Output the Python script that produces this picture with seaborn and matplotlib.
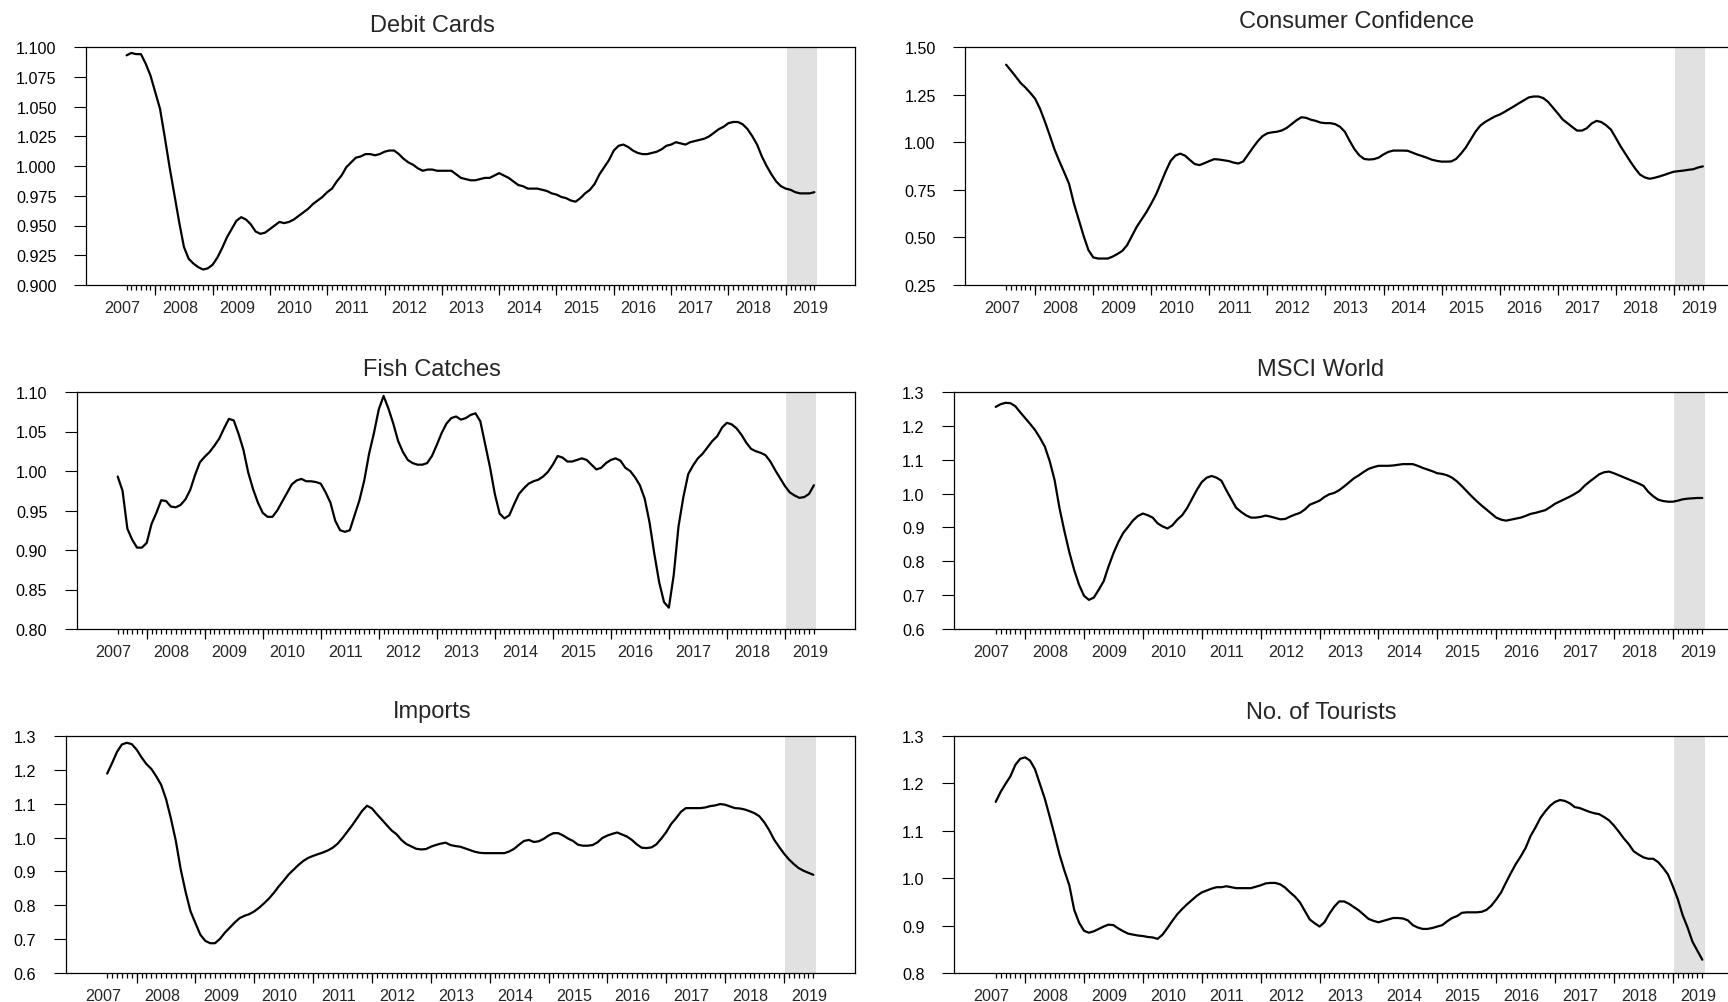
import numpy as np
import pandas as pd
import matplotlib
matplotlib.use("Agg")
import matplotlib.pyplot as plt
import matplotlib.transforms as mtransforms
from matplotlib.ticker import FixedLocator, FormatStrFormatter, NullLocator
import seaborn as sns

# ---------------- data (monthly, Jul 2007 .. Jul 2019) ----------------
months = pd.date_range("2007-07-01", "2019-07-01", freq="MS")

debit_cards = [
    1.093, 1.095, 1.094, 1.094, 1.086, 1.076, 1.062, 1.048, 1.024, 0.999, 0.976, 0.953,
    0.932, 0.922, 0.918, 0.915, 0.913, 0.914, 0.917, 0.923, 0.931, 0.940, 0.947, 0.954,
    0.957, 0.955, 0.951, 0.945, 0.943, 0.944, 0.947, 0.950, 0.953, 0.952, 0.953, 0.955,
    0.958, 0.961, 0.964, 0.968, 0.971, 0.974, 0.978, 0.981, 0.987, 0.992, 0.999, 1.003,
    1.007, 1.008, 1.010, 1.010, 1.009, 1.010, 1.012, 1.013, 1.013, 1.010, 1.006, 1.003,
    1.001, 0.998, 0.996, 0.997, 0.997, 0.996, 0.996, 0.996, 0.996, 0.993, 0.990, 0.989,
    0.988, 0.988, 0.989, 0.990, 0.990, 0.992, 0.994, 0.992, 0.990, 0.987, 0.984, 0.983,
    0.981, 0.981, 0.981, 0.980, 0.979, 0.977, 0.976, 0.974, 0.973, 0.971, 0.970, 0.973,
    0.977, 0.980, 0.985, 0.993, 0.999, 1.005, 1.013, 1.017, 1.018, 1.016, 1.013, 1.011,
    1.010, 1.010, 1.011, 1.012, 1.014, 1.017, 1.018, 1.020, 1.019, 1.018, 1.020, 1.021,
    1.022, 1.023, 1.025, 1.028, 1.031, 1.033, 1.036, 1.037, 1.037, 1.035, 1.031, 1.025,
    1.018, 1.008, 1.000, 0.993, 0.987, 0.983, 0.981, 0.980, 0.978, 0.977, 0.977, 0.977,
    0.978]

consumer_confidence = [
    1.407, 1.376, 1.344, 1.311, 1.287, 1.259, 1.228, 1.176, 1.109, 1.037, 0.962, 0.900,
    0.842, 0.782, 0.679, 0.595, 0.509, 0.434, 0.395, 0.389, 0.389, 0.389, 0.399, 0.413,
    0.429, 0.459, 0.508, 0.556, 0.595, 0.633, 0.678, 0.726, 0.787, 0.848, 0.902, 0.930,
    0.940, 0.929, 0.906, 0.885, 0.880, 0.890, 0.901, 0.911, 0.909, 0.905, 0.901, 0.893,
    0.888, 0.899, 0.935, 0.971, 1.005, 1.032, 1.047, 1.052, 1.055, 1.062, 1.075, 1.095,
    1.115, 1.131, 1.128, 1.118, 1.112, 1.103, 1.100, 1.100, 1.095, 1.081, 1.055, 1.007,
    0.963, 0.931, 0.912, 0.909, 0.911, 0.919, 0.936, 0.949, 0.956, 0.956, 0.956, 0.955,
    0.945, 0.935, 0.927, 0.918, 0.908, 0.902, 0.898, 0.898, 0.899, 0.912, 0.940, 0.972,
    1.013, 1.055, 1.087, 1.106, 1.121, 1.135, 1.145, 1.159, 1.174, 1.189, 1.205, 1.220,
    1.235, 1.240, 1.240, 1.232, 1.212, 1.182, 1.152, 1.120, 1.100, 1.080, 1.061, 1.061,
    1.073, 1.098, 1.112, 1.106, 1.089, 1.066, 1.023, 0.978, 0.938, 0.899, 0.862, 0.830,
    0.815, 0.808, 0.813, 0.820, 0.828, 0.837, 0.845, 0.848, 0.851, 0.855, 0.858, 0.867,
    0.873]

fish_catches = [
    0.993, 0.975, 0.927, 0.913, 0.903, 0.903, 0.909, 0.933, 0.947, 0.963, 0.962, 0.955,
    0.954, 0.957, 0.964, 0.976, 0.995, 1.011, 1.018, 1.024, 1.032, 1.041, 1.054, 1.066,
    1.064, 1.047, 1.027, 0.998, 0.977, 0.960, 0.947, 0.942, 0.942, 0.950, 0.961, 0.972,
    0.983, 0.988, 0.990, 0.987, 0.987, 0.986, 0.984, 0.973, 0.960, 0.937, 0.925, 0.923,
    0.925, 0.944, 0.963, 0.988, 1.022, 1.048, 1.078, 1.095, 1.079, 1.060, 1.038, 1.024,
    1.014, 1.010, 1.008, 1.008, 1.010, 1.019, 1.033, 1.048, 1.060, 1.067, 1.069, 1.065,
    1.067, 1.071, 1.073, 1.063, 1.034, 1.005, 0.971, 0.946, 0.940, 0.944, 0.958, 0.971,
    0.978, 0.984, 0.987, 0.989, 0.993, 0.999, 1.008, 1.019, 1.017, 1.012, 1.012, 1.014,
    1.016, 1.014, 1.008, 1.002, 1.004, 1.010, 1.014, 1.016, 1.013, 1.004, 1.000, 0.992,
    0.982, 0.965, 0.935, 0.895, 0.859, 0.834, 0.827, 0.868, 0.930, 0.967, 0.996, 1.007,
    1.016, 1.022, 1.030, 1.038, 1.044, 1.055, 1.061, 1.059, 1.054, 1.046, 1.036, 1.028,
    1.025, 1.023, 1.020, 1.012, 1.001, 0.991, 0.981, 0.973, 0.969, 0.966, 0.967, 0.971,
    0.982]

msci_world = [
    1.256, 1.264, 1.268, 1.267, 1.258, 1.240, 1.223, 1.206, 1.188, 1.165, 1.139, 1.096,
    1.040, 0.957, 0.889, 0.827, 0.774, 0.730, 0.698, 0.686, 0.693, 0.716, 0.741, 0.785,
    0.824, 0.857, 0.884, 0.902, 0.921, 0.934, 0.941, 0.936, 0.929, 0.912, 0.903, 0.897,
    0.906, 0.923, 0.936, 0.957, 0.984, 1.011, 1.034, 1.047, 1.052, 1.047, 1.038, 1.010,
    0.984, 0.958, 0.946, 0.936, 0.929, 0.929, 0.931, 0.935, 0.932, 0.928, 0.924, 0.925,
    0.932, 0.938, 0.943, 0.953, 0.967, 0.973, 0.979, 0.990, 0.998, 1.002, 1.010, 1.021,
    1.033, 1.045, 1.054, 1.064, 1.073, 1.078, 1.082, 1.082, 1.082, 1.083, 1.085, 1.087,
    1.087, 1.087, 1.082, 1.076, 1.071, 1.066, 1.060, 1.058, 1.054, 1.047, 1.036, 1.022,
    1.007, 0.992, 0.978, 0.965, 0.953, 0.941, 0.929, 0.923, 0.920, 0.923, 0.926, 0.929,
    0.934, 0.940, 0.943, 0.947, 0.951, 0.960, 0.970, 0.977, 0.984, 0.991, 0.999, 1.008,
    1.023, 1.035, 1.046, 1.057, 1.063, 1.065, 1.060, 1.054, 1.048, 1.042, 1.036, 1.030,
    1.023, 1.005, 0.992, 0.982, 0.978, 0.976, 0.976, 0.979, 0.983, 0.985, 0.986, 0.987,
    0.987]

imports = [
    1.189, 1.220, 1.253, 1.275, 1.280, 1.276, 1.260, 1.237, 1.217, 1.203, 1.181, 1.156,
    1.114, 1.056, 0.990, 0.906, 0.839, 0.782, 0.747, 0.713, 0.695, 0.688, 0.688, 0.701,
    0.719, 0.734, 0.749, 0.762, 0.769, 0.774, 0.782, 0.793, 0.806, 0.820, 0.837, 0.856,
    0.873, 0.891, 0.905, 0.919, 0.931, 0.940, 0.946, 0.951, 0.956, 0.962, 0.970, 0.982,
    0.999, 1.018, 1.037, 1.058, 1.079, 1.094, 1.086, 1.069, 1.053, 1.037, 1.021, 1.010,
    0.993, 0.981, 0.974, 0.967, 0.965, 0.966, 0.973, 0.978, 0.982, 0.985, 0.978, 0.975,
    0.973, 0.968, 0.963, 0.958, 0.955, 0.954, 0.954, 0.954, 0.954, 0.954, 0.959, 0.967,
    0.979, 0.990, 0.993, 0.987, 0.989, 0.996, 1.006, 1.013, 1.013, 1.006, 0.997, 0.990,
    0.979, 0.976, 0.976, 0.978, 0.986, 0.999, 1.006, 1.011, 1.015, 1.009, 1.003, 0.993,
    0.980, 0.970, 0.969, 0.971, 0.980, 0.997, 1.016, 1.040, 1.057, 1.076, 1.087, 1.087,
    1.087, 1.087, 1.089, 1.093, 1.095, 1.099, 1.097, 1.092, 1.087, 1.086, 1.083, 1.078,
    1.072, 1.063, 1.045, 1.022, 0.994, 0.973, 0.953, 0.936, 0.922, 0.910, 0.902, 0.896,
    0.890]

tourists = [
    1.161, 1.182, 1.199, 1.215, 1.239, 1.252, 1.255, 1.248, 1.230, 1.199, 1.168, 1.130,
    1.091, 1.050, 1.016, 0.985, 0.933, 0.906, 0.889, 0.885, 0.888, 0.893, 0.898, 0.902,
    0.901, 0.894, 0.888, 0.883, 0.881, 0.879, 0.878, 0.876, 0.875, 0.872, 0.881, 0.895,
    0.910, 0.924, 0.935, 0.945, 0.954, 0.963, 0.970, 0.974, 0.978, 0.981, 0.981, 0.983,
    0.981, 0.979, 0.979, 0.979, 0.979, 0.982, 0.985, 0.989, 0.990, 0.990, 0.987, 0.980,
    0.970, 0.961, 0.949, 0.931, 0.913, 0.905, 0.898, 0.907, 0.925, 0.940, 0.951, 0.951,
    0.946, 0.939, 0.932, 0.923, 0.914, 0.910, 0.907, 0.910, 0.913, 0.916, 0.916, 0.915,
    0.911, 0.901, 0.896, 0.893, 0.893, 0.895, 0.898, 0.901, 0.909, 0.916, 0.920, 0.927,
    0.928, 0.928, 0.928, 0.929, 0.933, 0.942, 0.955, 0.970, 0.991, 1.011, 1.030, 1.046,
    1.064, 1.089, 1.107, 1.127, 1.141, 1.153, 1.161, 1.165, 1.163, 1.158, 1.150, 1.148,
    1.144, 1.140, 1.137, 1.135, 1.129, 1.122, 1.111, 1.098, 1.084, 1.072, 1.057, 1.050,
    1.044, 1.041, 1.041, 1.034, 1.022, 1.008, 0.983, 0.956, 0.922, 0.896, 0.866, 0.847,
    0.828]

titles = ["Debit Cards", "Consumer Confidence", "Fish Catches",
          "MSCI World", "Imports", "No. of Tourists"]
series = [debit_cards, consumer_confidence, fish_catches,
          msci_world, imports, tourists]
y_limits = [(0.900, 1.100), (0.25, 1.50), (0.80, 1.10),
            (0.6, 1.3), (0.6, 1.3), (0.8, 1.3)]
y_steps = [0.025, 0.25, 0.05, 0.1, 0.1, 0.1]
y_formats = ["%.3f", "%.2f", "%.2f", "%.1f", "%.1f", "%.1f"]
year_labels = list(range(2007, 2020))
shade_start, shade_end = "2019-01", "2019-07"

# ---------------- styling ----------------
sns.set_theme(style="white")
plt.rcParams["font.family"] = ["Liberation Sans", "DejaVu Sans"]
plt.rcParams["axes.edgecolor"] = "black"
plt.rcParams["axes.linewidth"] = 0.9

W, H = 1728, 1003
fig = plt.figure(figsize=(W / 100, H / 100), dpi=100)

# axes boxes in pixels: left, top, right, bottom
boxes = [(86, 48, 855, 286), (965, 48, 1744, 286),
         (76.6, 393, 855, 630), (954, 393, 1744, 630),
         (65.5, 737, 855, 974), (954, 737, 1744, 974)]
title_x_px = [432, 1357, 432, 1321, 432, 1321]
title_pad_px = [16, 19.5, 16.5, 16.5, 19, 18]

xdec = np.asarray(months.year + (months.month - 1) / 12.0, dtype=float)
month_ticks = [float(v) for v in xdec]
year_ticks = [float(v) for v in range(2008, 2020)]
margin = 8.5 / 12.0
s0 = pd.Timestamp(shade_start)
s1 = pd.Timestamp(shade_end)
shade_a = s0.year + (s0.month - 1) / 12.0 + 0.3 / 12
shade_b = s1.year + (s1.month - 1) / 12.0 + 0.5 / 12

for i in range(6):
    l, t, r, b = boxes[i]
    ax = fig.add_axes([l / W, 1 - b / H, (r - l) / W, (b - t) / H])
    df = pd.DataFrame({"x": xdec, "value": series[i]})
    ax.axvspan(shade_a, shade_b, color="#e1e1e1", lw=0, zorder=0)
    sns.lineplot(data=df, x="x", y="value", ax=ax, color="black",
                 linewidth=1.6, zorder=3)
    ax.set_xlim(xdec[0] - margin, xdec[-1] + margin)
    lo, hi = y_limits[i]
    ax.set_ylim(lo, hi)
    ax.set_xlabel("")
    ax.set_ylabel("")
    for sp in ax.spines.values():
        sp.set_visible(True)

    tx = (title_x_px[i] - l) / (r - l)
    ax.set_title(titles[i], fontsize=17, x=tx, pad=title_pad_px[i] * 0.72)

    trans = mtransforms.blended_transform_factory(ax.transData, ax.transAxes)
    trans = trans + mtransforms.ScaledTranslation(0, -15 / 100, fig.dpi_scale_trans)
    for yr in year_labels:
        ax.text(yr + 0.43, 0, str(yr), transform=trans, ha="center", va="top",
                fontsize=11.6)

    ax.yaxis.set_major_locator(FixedLocator(
        [float(v) for v in np.round(np.arange(lo, hi + y_steps[i] / 2, y_steps[i]), 4)]))
    ax.yaxis.set_major_formatter(FormatStrFormatter(y_formats[i]))
    ax.tick_params(axis="y", which="major", direction="out", length=8.6,
                   width=0.8, color="black", pad=12.5, labelsize=11.6,
                   left=True, labelcolor="black")

    # year (January) ticks on the main axis
    ax.xaxis.set_major_locator(FixedLocator(year_ticks))
    ax.xaxis.set_minor_locator(NullLocator())
    ax.tick_params(axis="x", which="major", direction="out", length=7.5,
                   width=0.9, color="black", labelbottom=False, bottom=True)

    # monthly ticks on a secondary bottom axis sharing the same scale
    sec = ax.secondary_xaxis("bottom")
    sec.xaxis.set_major_locator(FixedLocator(month_ticks))
    sec.xaxis.set_minor_locator(NullLocator())
    sec.tick_params(axis="x", which="major", direction="out", length=3.8,
                    width=0.9, color="black", labelbottom=False, bottom=True)
    sec.spines["bottom"].set_visible(False)

fig.savefig("out.png", dpi=100, facecolor="white")
